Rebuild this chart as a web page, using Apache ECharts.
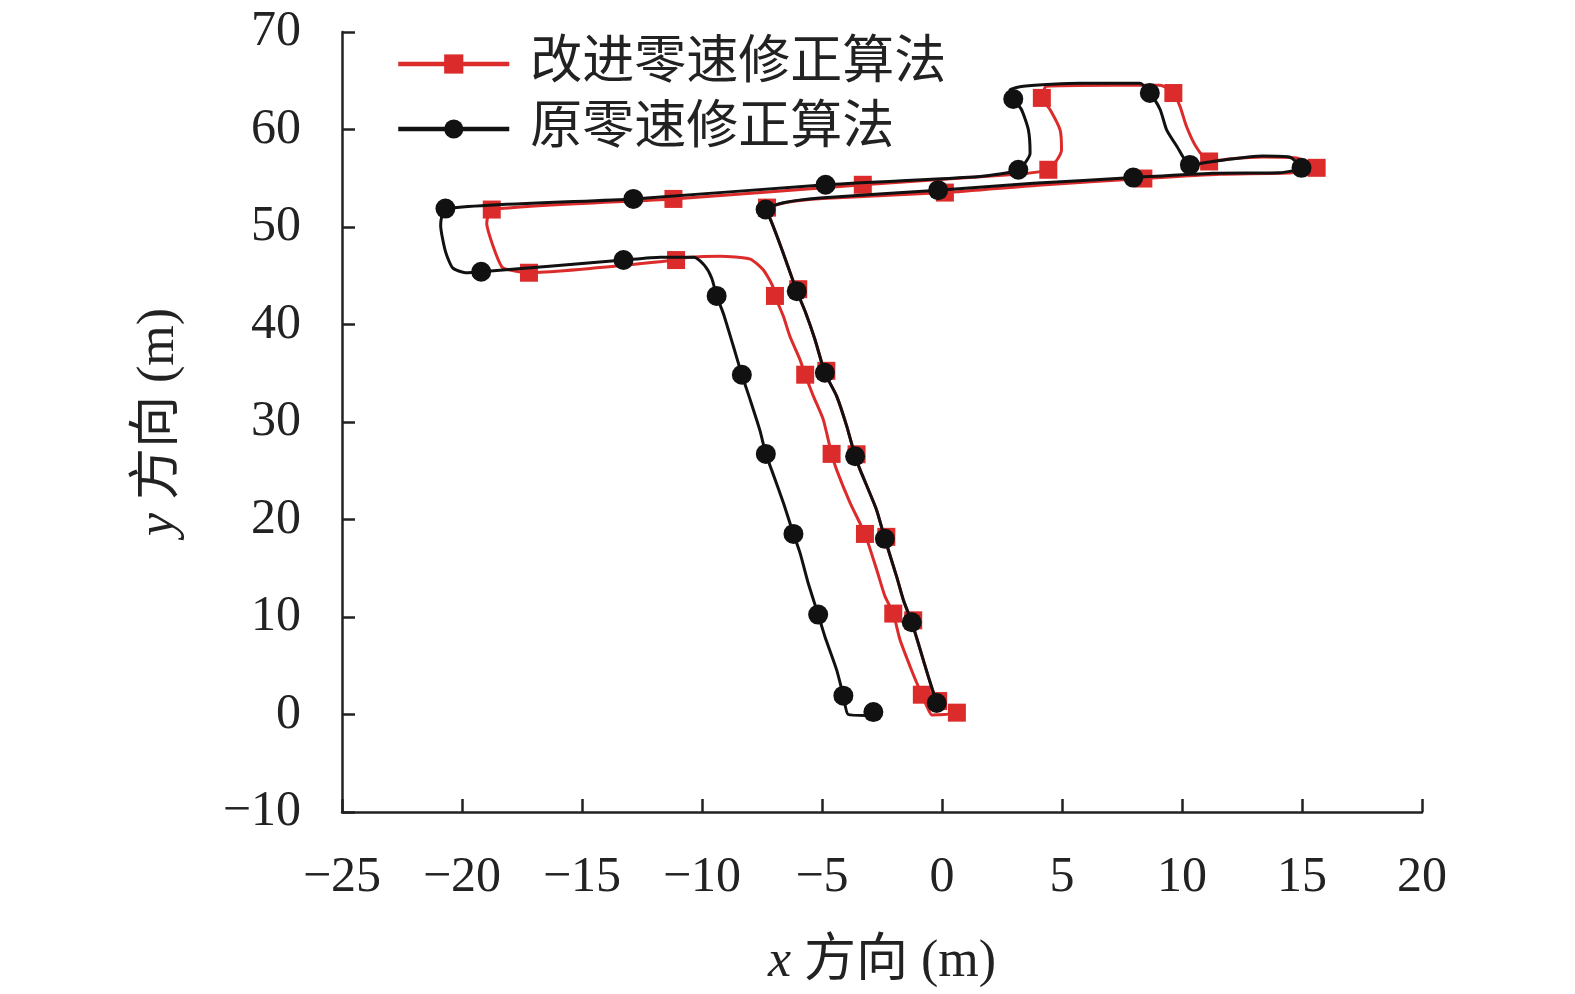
<!DOCTYPE html>
<html>
<head>
<meta charset="utf-8">
<title>零速修正轨迹</title>
<script src="https://cdn.jsdelivr.net/npm/echarts@6/dist/echarts.min.js"></script>
<style>
  html, body { margin: 0; padding: 0; background: #fff; overflow: hidden; }
  #main { width: 1575px; height: 994px; }
</style>
</head>
<body>
<div id="main"></div>
<script>
var redName = '改进零速修正算法';
var blackName = '原零速修正算法';

// axis ranges (m): min, max, interval
var xRange = [-25, 20, 5];
var yRange = [-10, 70, 10];

// improved algorithm track [x, y]
var redTrack = [
  [-0.22,1.18],[-0.57,3.88],[-0.91,6.67],[-1.26,9.46],[-1.61,11.75],[-1.89,14.14],[-2.38,18.02],
  [-2.73,21.01],[-3.41,25.09],[-3.62,26.49],[-3.97,29.58],[-4.39,32.66],[-4.88,35.05],[-5.29,38.44],
  [-5.7,41.33],[-6.05,43.42],[-6.47,46.31],[-6.82,48.7],[-7.15,50.79],[-7.35,51.79],
  [-6.45,52.54],[-4.96,52.93],[0.12,53.53],[4.01,54.28],[8.39,54.97],[11.58,55.42],[14.57,55.57],
  [15.61,56.07],[14.77,57.07],[13.37,57.17],[11.98,56.97],[11.13,56.72],[10.58,58.26],[10.18,60.36],
  [9.92,62.35],[9.64,63.74],[9.09,64.54],[7.14,64.54],[4.36,64.44],[4.16,63.24],[4.5,62.05],
  [4.92,59.96],[4.98,57.91],[4.43,55.87],[2.81,55.37],[-3.3,54.33],[-11.19,52.88],[-18.76,51.79],
  [-18.97,50.39],[-18.7,48.0],[-18.34,45.91],[-18.06,45.61],[-17.21,45.31],[-11.08,46.61],
  [-10.63,46.86],[-9.24,47.01],[-7.99,46.71],[-7.45,45.61],[-7.05,43.92],[-6.96,42.93],[-6.61,40.84],
  [-6.33,38.74],[-5.91,36.35],[-5.7,34.85],[-5.36,32.66],[-4.95,30.27],[-4.6,26.73],[-4.39,25.09],
  [-3.83,21.71],[-3.21,18.52],[-2.72,14.84],[-2.38,12.15],[-2.03,10.35],[-1.75,7.67],[-1.33,4.93],
  [-1.05,3.23],[-0.84,2.03],[-0.62,0.79],[-0.42,-0.06],[0.12,-0.01],[0.62,0.19]
];
var redMarks = [
  [-0.16,1.38],[-1.2,9.66],[-2.32,18.22],[-3.56,26.69],[-4.82,35.25],[-5.99,43.62],[-7.29,51.99],
  [0.12,53.53],[8.39,54.97],[15.61,56.07],[11.13,56.72],[9.64,63.74],[4.16,63.24],[4.43,55.87],
  [-3.3,54.33],[-11.19,52.88],[-18.76,51.79],[-17.21,45.31],[-11.08,46.61],[-6.96,42.93],
  [-5.7,34.85],[-4.6,26.73],[-3.21,18.52],[-2.03,10.35],[-0.84,2.03],[0.62,0.19]
];

// original algorithm track [x, y]
var blackTrack = [
  [-0.22,1.18],[-0.57,3.88],[-0.91,6.67],[-1.26,9.46],[-1.61,11.75],[-1.89,14.14],[-2.38,18.02],
  [-2.73,21.01],[-3.41,25.09],[-3.62,26.49],[-3.97,29.58],[-4.39,32.66],[-4.88,35.05],[-5.29,38.44],
  [-5.7,41.33],[-6.05,43.42],[-6.47,46.31],[-6.82,48.7],[-7.15,50.79],[-7.35,51.79],[-6.61,52.49],
  [-5.09,52.98],[-0.16,53.78],[3.81,54.48],[7.97,55.07],[11.28,55.52],[14.07,55.57],[14.98,56.07],
  [14.47,57.17],[13.37,57.27],[11.28,56.72],[10.33,56.37],[9.79,58.26],[9.36,59.96],[9.09,62.05],
  [8.66,63.74],[8.25,64.74],[5.75,64.74],[3.39,64.44],[2.83,64.04],[2.97,63.14],[3.31,62.05],
  [3.6,59.96],[3.67,57.56],[3.18,55.87],[1.59,55.17],[-4.85,54.33],[-12.86,52.88],[-20.69,51.89],
  [-20.89,50.19],[-20.69,47.5],[-20.39,45.81],[-19.85,45.31],[-19.2,45.41],[-13.27,46.61],
  [-11.73,46.91],[-10.33,46.91],[-9.88,46.01],[-9.59,44.72],[-9.39,42.93],[-9.11,41.13],[-8.69,37.74],
  [-8.34,34.85],[-7.99,32.26],[-7.59,29.17],[-7.34,26.73],[-7.1,25.09],[-6.61,21.71],[-6.19,18.52],
  [-5.91,16.53],[-5.57,13.44],[-5.16,10.25],[-4.88,8.01],[-4.39,4.58],[-4.11,1.93],[-3.91,0.0],
  [-3.16,-0.1],[-2.86,0.25]
];
var blackMarks = [
  [-0.22,1.18],[-1.26,9.46],[-2.38,18.02],[-3.62,26.49],[-4.88,35.05],[-6.05,43.42],[-7.35,51.79],
  [-0.16,53.78],[7.97,55.07],[14.98,56.07],[10.33,56.37],[8.66,63.74],[2.97,63.14],[3.18,55.87],
  [-4.85,54.33],[-12.86,52.88],[-20.69,51.89],[-19.2,45.41],[-13.27,46.61],[-9.39,42.93],
  [-8.34,34.85],[-7.34,26.73],[-6.19,18.52],[-5.16,10.25],[-4.11,1.93],[-2.86,0.25]
];

var RED = '#dc2b2b';
var BLACK = '#111111';
var AXIS = '#222222';
var FONT = "'Liberation Serif', 'Noto Sans CJK SC', serif";

function minus(v) { return String(v).replace('-', '\u2212'); }

var axisCommon = {
  type: 'value',
  axisLine: { onZero: false, lineStyle: { color: AXIS, width: 2.5 } },
  axisTick: { inside: true, length: 13, lineStyle: { color: AXIS, width: 2.5 } },
  splitLine: { show: false },
  nameLocation: 'middle',
  nameTextStyle: {
    fontFamily: FONT, fontSize: 52, color: AXIS,
    rich: { it: { fontFamily: FONT, fontSize: 52, fontStyle: 'italic', color: AXIS } }
  },
  axisLabel: { fontFamily: FONT, fontSize: 50, color: AXIS, formatter: minus }
};

var option = {
  backgroundColor: '#fff',
  animation: false,
  grid: { left: 342, right: 153, top: 32, bottom: 182 },
  legend: {
    orient: 'vertical',
    left: 391,
    top: 33,
    itemWidth: 111,
    itemHeight: 24,
    itemGap: 13,
    data: [redName, blackName],
    lineStyle: { width: 4.5 },
    textStyle: { fontFamily: FONT, fontSize: 52, lineHeight: 52, color: AXIS, padding: [0, 0, 0, 16] }
  },
  xAxis: Object.assign({}, axisCommon, {
    min: xRange[0], max: xRange[1], interval: xRange[2],
    name: '{it|x} 方向 (m)',
    nameGap: 124,
    axisLabel: Object.assign({}, axisCommon.axisLabel, { margin: 41 })
  }),
  yAxis: Object.assign({}, axisCommon, {
    min: yRange[0], max: yRange[1], interval: yRange[2],
    name: '{it|y} 方向 (m)',
    nameGap: 157,
    axisLabel: Object.assign({}, axisCommon.axisLabel, { margin: 41 })
  }),
  series: [
    {
      name: redName, type: 'line', data: redTrack, symbol: 'rect', symbolSize: 18,
      showSymbol: false, smooth: 0.2, color: RED,
      lineStyle: { color: RED, width: 3 }, itemStyle: { color: RED }, z: 2
    },
    {
      name: redName, type: 'scatter', data: redMarks, symbol: 'rect', symbolSize: 18,
      itemStyle: { color: RED, opacity: 1 }, z: 3
    },
    {
      name: blackName, type: 'line', data: blackTrack, symbol: 'circle', symbolSize: 20,
      showSymbol: false, smooth: 0.2, color: BLACK,
      lineStyle: { color: BLACK, width: 3 }, itemStyle: { color: BLACK }, z: 4
    },
    {
      name: blackName, type: 'scatter', data: blackMarks, symbol: 'circle', symbolSize: 20,
      itemStyle: { color: BLACK, opacity: 1 }, z: 5
    }
  ]
};

var myChart = echarts.init(document.getElementById('main'));
myChart.setOption(option);
</script>
</body>
</html>
